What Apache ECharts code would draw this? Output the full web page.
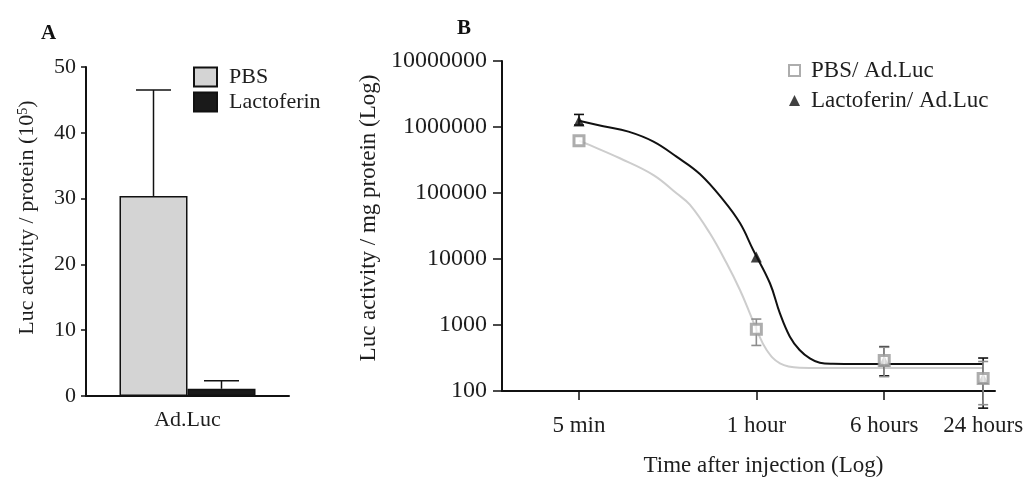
<!DOCTYPE html>
<html>
<head>
<meta charset="utf-8">
<script src="https://cdn.jsdelivr.net/npm/echarts@6/dist/echarts.min.js"></script>
<style>
html,body{margin:0;padding:0;background:#fff;}
#chart{width:1030px;height:477px;}
</style>
</head>
<body>
<div id="chart"></div>
<script>
// ---------- Panel A data ----------
const barCategories = ['Ad.Luc'];
const barSeriesNames = ['PBS', 'Lactoferin'];
const barPBS = [30.4];
const barPBSUpper = [46.5];
const barLacto = [1.1];
const barLactoUpper = [2.3];
const barTicks = [0, 10, 20, 30, 40, 50];

// ---------- Panel B data ----------
const timeMinutes = [5, 60, 360, 1440];
const timeLabels = ['5 min', '1 hour', '6 hours', '24 hours'];
const lineSeriesNames = ['PBS/ Ad.Luc', 'Lactoferin/ Ad.Luc'];
const pbsMean = [620000, 860, 290, 155];
const pbsLow = [620000, 490, 165, 62];
const pbsHigh = [620000, 1230, 460, 280];
const lacMean = [1230000, 10700, 285, 155];
const lacLow = [1070000, 10700, 170, 55];
const lacHigh = [1550000, 10700, 470, 316];

// fitted curves
const pbsFitMinutes = [5, 5.83, 8.87, 14.2, 19.6, 23.7, 31.3, 39.6, 47.7, 54.8, 60.3, 69.3, 83.5, 110, 150, 250, 500, 1000, 1440];
const pbsFitValues = [620000, 530000, 336000, 187000, 99000, 66000, 24500, 8600, 3390, 1500, 840, 418, 263, 226, 224, 224, 224, 224, 224];
const lacFitMinutes = [5, 7.03, 10.0, 14.2, 19.6, 27.2, 37.8, 47.7, 57.4, 72.6, 83.5, 96, 110, 127, 146, 175, 250, 500, 1000, 1440];
const lacFitValues = [1240000, 1030000, 850000, 600000, 355000, 194000, 78000, 35000, 13700, 4290, 1500, 665, 418, 312, 268, 258, 256, 256, 256, 256];

const xMinMinutes = 1.7;
const xMaxMinutes = 1700;

// ---------- styling ----------
const FONT = 'Liberation Serif';
const TXT = '#1e1e1e';
const BAR_W = 68;

const chart = echarts.init(document.getElementById('chart'), null, {renderer: 'canvas'});

function barErr(offsetSign, capW) {
  return function (params, api) {
    const c = api.value(0);
    const base = api.coord([c, api.value(1)]);
    const top = api.coord([c, api.value(2)]);
    const x = base[0] + offsetSign * BAR_W / 2;
    return {
      type: 'group',
      children: [
        {type: 'line', shape: {x1: x, y1: base[1], x2: x, y2: top[1]}, style: {stroke: '#111', lineWidth: 1.5}},
        {type: 'line', shape: {x1: x - capW / 2, y1: top[1], x2: x + capW / 2, y2: top[1]}, style: {stroke: '#111', lineWidth: 1.5}}
      ]
    };
  };
}

function pointErr(color, capW) {
  return function (params, api) {
    const x = api.value(0);
    const lo = api.value(1), hi = api.value(2);
    if (lo === hi) return null;
    const p1 = api.coord([x, lo]);
    const p2 = api.coord([x, hi]);
    return {
      type: 'group',
      children: [
        {type: 'line', shape: {x1: p1[0], y1: p1[1], x2: p2[0], y2: p2[1]}, style: {stroke: color, lineWidth: 1.6}},
        {type: 'line', shape: {x1: p1[0] - capW / 2, y1: p1[1], x2: p1[0] + capW / 2, y2: p1[1]}, style: {stroke: color, lineWidth: 1.6}},
        {type: 'line', shape: {x1: p2[0] - capW / 2, y1: p2[1], x2: p2[0] + capW / 2, y2: p2[1]}, style: {stroke: color, lineWidth: 1.6}}
      ]
    };
  };
}

const zip2 = (a, b) => a.map((v, i) => [v, b[i]]);
const zip3 = (a, b, c) => a.map((v, i) => [v, b[i], c[i]]);

const option = {
  backgroundColor: '#fff',
  animation: false,
  textStyle: {fontFamily: FONT, color: TXT},
  title: [
    {text: 'A', left: 41, top: 23, padding: 0, textStyle: {fontFamily: FONT, fontWeight: 'bold', fontSize: 21, color: '#111'}},
    {text: 'B', left: 457, top: 18, padding: 0, textStyle: {fontFamily: FONT, fontWeight: 'bold', fontSize: 21, color: '#111'}}
  ],
  legend: [
    {
      data: barSeriesNames,
      orient: 'vertical', left: 188, top: 61,
      itemWidth: 23, itemHeight: 19, itemGap: 3,
      icon: 'rect',
      textStyle: {fontFamily: FONT, fontSize: 22, color: TXT, lineHeight: 22, padding: [0, 0, 0, 7]}
    },
    {
      data: lineSeriesNames,
      orient: 'vertical', left: 783, top: 54,
      itemWidth: 11, itemHeight: 11, itemGap: 7,
      textStyle: {fontFamily: FONT, fontSize: 23, color: TXT, lineHeight: 23, padding: [0, 0, 0, 6]}
    }
  ],
  grid: [
    {left: 86, top: 67, width: 203, height: 329, outerBoundsMode: 'none', containLabel: false},
    {left: 502, top: 61, width: 493, height: 330, outerBoundsMode: 'none', containLabel: false}
  ],
  xAxis: [
    {
      gridIndex: 0, type: 'category', data: barCategories,
      axisLine: {lineStyle: {color: '#111', width: 2}},
      axisTick: {show: false},
      axisLabel: {fontFamily: FONT, fontSize: 22, color: TXT, margin: 13}
    },
    {
      gridIndex: 1, type: 'log', logBase: 10, min: xMinMinutes, max: xMaxMinutes,
      name: 'Time after injection (Log)', nameLocation: 'middle', nameGap: 63,
      nameTextStyle: {fontFamily: FONT, fontSize: 23, color: TXT, padding: [0, 0, 0, 30]},
      axisLine: {lineStyle: {color: '#111', width: 2}},
      axisTick: {show: true, length: 9, lineStyle: {color: '#111', width: 1.5}, customValues: timeMinutes},
      axisLabel: {fontFamily: FONT, fontSize: 23, color: TXT, margin: 23, customValues: timeMinutes,
        formatter: v => { const i = timeMinutes.findIndex(m => Math.abs(m - v) < 1e-6 * m); return i >= 0 ? timeLabels[i] : ''; }},
      splitLine: {show: false}, minorTick: {show: false}
    }
  ],
  yAxis: [
    {
      gridIndex: 0, type: 'value', min: barTicks[0], max: barTicks[barTicks.length - 1], interval: barTicks[1] - barTicks[0],
      name: '{a|Luc activity / protein (10}{s|5}{a|)}', nameLocation: 'middle', nameGap: 48,
      nameTextStyle: {padding: [0, 0, 0, 28], rich: {
        a: {fontFamily: FONT, fontSize: 22, color: TXT},
        s: {fontFamily: FONT, fontSize: 14, color: TXT, verticalAlign: 'top', padding: [0, 0, 8, 0]}
      }},
      axisLine: {show: true, lineStyle: {color: '#111', width: 2}},
      axisTick: {show: true, length: 5, lineStyle: {color: '#111', width: 1.5}},
      axisLabel: {fontFamily: FONT, fontSize: 22, color: TXT, margin: 10},
      splitLine: {show: false}
    },
    {
      gridIndex: 1, type: 'log', logBase: 10, min: 100, max: 10000000,
      name: 'Luc activity / mg protein (Log)', nameLocation: 'middle', nameGap: 122,
      nameTextStyle: {fontFamily: FONT, fontSize: 23, color: TXT, padding: [0, 0, 0, 16]},
      axisLine: {show: true, lineStyle: {color: '#111', width: 2}},
      axisTick: {show: true, length: 9, lineStyle: {color: '#111', width: 1.5}},
      axisLabel: {fontFamily: FONT, fontSize: 24, color: TXT, margin: 15, formatter: v => String(Math.round(v))},
      splitLine: {show: false}, minorTick: {show: false}
    }
  ],
  series: [
    {
      name: barSeriesNames[0], type: 'bar', xAxisIndex: 0, yAxisIndex: 0, data: barPBS,
      barWidth: BAR_W, barGap: '0%',
      itemStyle: {color: '#d4d4d4', borderColor: '#111', borderWidth: 1.5}
    },
    {
      name: barSeriesNames[1], type: 'bar', xAxisIndex: 0, yAxisIndex: 0, data: barLacto,
      barWidth: BAR_W, barGap: '0%',
      itemStyle: {color: '#1a1a1a', borderColor: '#111', borderWidth: 1.5}
    },
    {
      name: 'errA1', type: 'custom', xAxisIndex: 0, yAxisIndex: 0, z: 1,
      renderItem: barErr(-1, 35),
      data: barCategories.map((c, i) => [i, barPBS[i], barPBSUpper[i]])
    },
    {
      name: 'errA2', type: 'custom', xAxisIndex: 0, yAxisIndex: 0, z: 3,
      renderItem: barErr(1, 35),
      data: barCategories.map((c, i) => [i, barLacto[i], barLactoUpper[i]])
    },
    {
      name: 'fitPBS', type: 'line', xAxisIndex: 1, yAxisIndex: 1, data: zip2(pbsFitMinutes, pbsFitValues),
      showSymbol: false, smooth: 0.4, z: 2,
      lineStyle: {color: '#cdcdcd', width: 2}, silent: true
    },
    {
      name: 'fitLac', type: 'line', xAxisIndex: 1, yAxisIndex: 1, data: zip2(lacFitMinutes, lacFitValues),
      showSymbol: false, smooth: 0.4, z: 2,
      lineStyle: {color: '#111', width: 2}, silent: true
    },
    {
      name: 'errLac', type: 'custom', xAxisIndex: 1, yAxisIndex: 1, z: 3, clip: false,
      renderItem: pointErr('#111', 10),
      data: zip3(timeMinutes, lacLow, lacHigh)
    },
    {
      name: lineSeriesNames[1], type: 'scatter', xAxisIndex: 1, yAxisIndex: 1, z: 4,
      data: zip2(timeMinutes, lacMean),
      symbol: 'triangle', symbolSize: 11,
      itemStyle: {color: '#111'}
    },
    {
      name: 'errPBS', type: 'custom', xAxisIndex: 1, yAxisIndex: 1, z: 5, clip: false,
      renderItem: pointErr('#8e8e8e', 10),
      data: zip3(timeMinutes, pbsLow, pbsHigh)
    },
    {
      name: lineSeriesNames[0], type: 'scatter', xAxisIndex: 1, yAxisIndex: 1, z: 6,
      data: zip2(timeMinutes, pbsMean),
      symbol: 'rect', symbolSize: 10,
      itemStyle: {color: '#ffffff', borderColor: '#999999', borderWidth: 3}
    }
  ]
};

chart.setOption(option);
</script>
</body>
</html>
